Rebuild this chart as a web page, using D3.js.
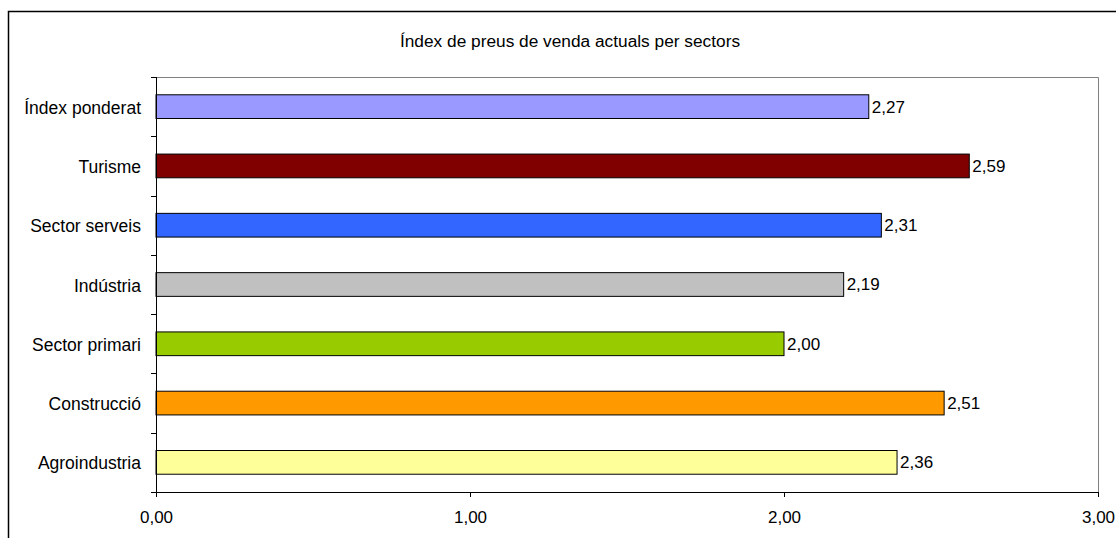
<!DOCTYPE html>
<html>
<head>
    <meta charset="utf-8" />
    <title>Índex de preus de venda actuals per sectors</title>
    <style>
        body { margin: 0; background: #fff; }
        svg text { font-family: "Liberation Sans", Arial, sans-serif; font-size: 17px; fill: #000; }
    </style>
</head>
<body>
    <svg></svg>
    <script src="https://d3js.org/d3.v7.min.js"></script>
    <script>
        // Data (top to bottom)
        const sectors = ["Índex ponderat", "Turisme", "Sector serveis", "Indústria", "Sector primari", "Construcció", "Agroindustria"];
        const values = [2.27, 2.59, 2.31, 2.19, 2.00, 2.51, 2.36];
        const colors = ["#9999FF", "#800000", "#3366FF", "#C0C0C0", "#99CC00", "#FF9900", "#FFFF99"];
        const xTicks = [0, 1, 2, 3];
        const title = "Índex de preus de venda actuals per sectors";

        let width = 1116, height = 538;
        let margin = { top: 77, right: 18, bottom: 46, left: 156 };

        let svg = d3.select("svg")
            .attr("width", width)
            .attr("height", height);

        // Outer chart border
        svg.append("rect")
            .attr("x", 8.5).attr("y", 11.5)
            .attr("width", width + 20).attr("height", height + 20)
            .attr("fill", "none")
            .attr("stroke", "#000")
            .attr("stroke-width", 1.5);

        let x = d3.scaleLinear()
            .domain([0, 3])
            .range([margin.left, width - margin.right]);

        let y = d3.scaleBand()
            .domain(sectors)
            .range([margin.top, height - margin.bottom])
            .paddingInner(0.6)
            .paddingOuter(0.3);

        // Plot area frame (grey top/right)
        svg.append("path")
            .attr("d", `M${x(0)},${margin.top + 0.5}H${x(3) + 0.5}V${height - margin.bottom}`)
            .attr("fill", "none")
            .attr("stroke", "#808080");

        // Bars
        let data = sectors.map((s, i) => ({ name: s, value: values[i], color: colors[i] }));

        svg.append("g")
            .selectAll("rect")
            .data(data)
            .join("rect")
            .attr("x", x(0))
            .attr("y", d => y(d.name))
            .attr("width", d => x(d.value) - x(0))
            .attr("height", y.bandwidth())
            .attr("fill", d => d.color)
            .attr("stroke", "#000")
            .attr("stroke-width", 1);

        // Value labels
        const fmt = v => d3.format(".2f")(v).replace(".", ",");
        svg.append("g")
            .selectAll("text")
            .data(data)
            .join("text")
            .attr("x", d => x(d.value) + 3)
            .attr("y", d => y(d.name) + y.bandwidth() / 2)
            .attr("dy", "0.35em")
            .text(d => fmt(d.value));

        // X axis
        let xAxis = d3.axisBottom(x)
            .tickValues(xTicks)
            .tickFormat(fmt)
            .tickSize(5)
            .tickPadding(14);

        let gx = svg.append("g")
            .attr("transform", `translate(0,${height - margin.bottom})`)
            .call(xAxis);
        gx.select(".domain").attr("stroke", "#000");
        gx.selectAll("text").style("font-size", "17px").attr("fill", "#000");

        // Y axis: ticks between categories
        let yTickPos = d3.range(sectors.length + 1).map(i => margin.top + i * (height - margin.top - margin.bottom) / sectors.length);
        let gy = svg.append("g");
        gy.append("line")
            .attr("x1", x(0) + 0.5).attr("x2", x(0) + 0.5)
            .attr("y1", margin.top).attr("y2", height - margin.bottom)
            .attr("stroke", "#000");
        gy.selectAll("line.tick")
            .data(yTickPos)
            .join("line")
            .attr("class", "tick")
            .attr("x1", x(0) - 5).attr("x2", x(0))
            .attr("y1", d => Math.round(d) + 0.5).attr("y2", d => Math.round(d) + 0.5)
            .attr("stroke", "#000");
        gy.selectAll("text")
            .data(sectors)
            .join("text")
            .attr("x", x(0) - 15)
            .attr("y", d => y(d) + y.bandwidth() / 2 + 1)
            .attr("dy", "0.35em")
            .attr("text-anchor", "end")
            .style("font-size", "17.5px")
            .text(d => d);

        // Title
        svg.append("text")
            .attr("x", 570)
            .attr("y", 41)
            .attr("dy", "0.35em")
            .attr("text-anchor", "middle")
            .style("font-size", "17.3px")
            .text(title);
    </script>
</body>
</html>
